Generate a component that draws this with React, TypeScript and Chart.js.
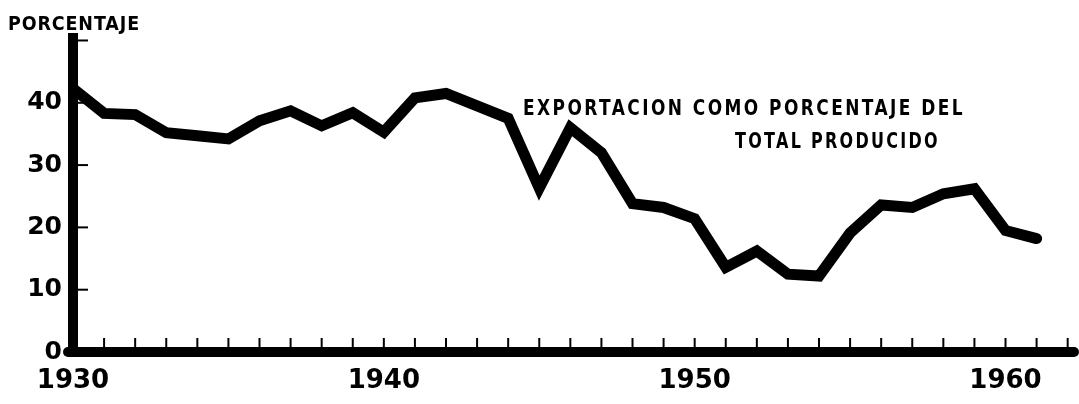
import React, { useEffect, useRef } from "react";
import { Chart, registerables } from "chart.js";

Chart.register(...registerables);

const years: number[] = [
  1930, 1931, 1932, 1933, 1934, 1935, 1936, 1937, 1938, 1939,
  1940, 1941, 1942, 1943, 1944, 1945, 1946, 1947, 1948, 1949,
  1950, 1951, 1952, 1953, 1954, 1955, 1956, 1957, 1958, 1959,
  1960, 1961,
];
const exportPct: number[] = [
  42.3, 38.3, 38.1, 35.2, 34.7, 34.2, 37.1, 38.7, 36.3, 38.4,
  35.3, 40.8, 41.5, 39.5, 37.5, 26.3, 36.0, 32.0, 23.8, 23.2,
  21.4, 13.6, 16.2, 12.5, 12.2, 19.1, 23.6, 23.2, 25.4, 26.2,
  19.5, 18.2,
];
const xLabelYears: number[] = [1930, 1940, 1950, 1960];
const yLabelValues: number[] = [0, 10, 20, 30, 40];
const yTickValues: number[] = [10, 20, 30, 40, 50];
const xTickYears: number[] = [
  1931, 1932, 1933, 1934, 1935, 1936, 1937, 1938, 1939, 1940,
  1941, 1942, 1943, 1944, 1945, 1946, 1947, 1948, 1949, 1950,
  1951, 1952, 1953, 1954, 1955, 1956, 1957, 1958, 1959, 1960,
  1961, 1962,
];
const yAxisTitle = "PORCENTAJE";
const noteLine1 = "EXPORTACION COMO PORCENTAJE DEL";
const noteLine2 = "TOTAL PRODUCIDO";

const FONT = "'DejaVu Sans', 'Noto Sans', sans-serif";

function fitText(ctx: CanvasRenderingContext2D, text: string, left: number, baseline: number, width: number, font: string, spacing: string) {
  ctx.save();
  ctx.font = font;
  (ctx as any).letterSpacing = spacing;
  ctx.textAlign = "left";
  ctx.textBaseline = "alphabetic";
  const w = ctx.measureText(text).width;
  ctx.translate(left, baseline);
  ctx.scale(width / w, 1);
  ctx.fillStyle = "#000";
  ctx.fillText(text, 0, 0);
  ctx.restore();
}

const axesPlugin = {
  id: "oldAxes",
  beforeDatasetsDraw(chart: any) {
    const { ctx, chartArea, scales } = chart;
    const xs = scales.x;
    const ys = scales.y;
    ctx.save();
    ctx.strokeStyle = "#000";
    ctx.fillStyle = "#000";
    ctx.lineWidth = 10;
    ctx.lineCap = "butt";
    ctx.beginPath();
    ctx.moveTo(chartArea.left, chartArea.top);
    ctx.lineTo(chartArea.left, chartArea.bottom + 5);
    ctx.stroke();
    ctx.lineCap = "round";
    ctx.beginPath();
    ctx.moveTo(chartArea.left - 5, chartArea.bottom);
    ctx.lineTo(chartArea.right - 3, chartArea.bottom);
    ctx.stroke();
    ctx.lineWidth = 2;
    ctx.lineCap = "butt";
    yTickValues.forEach((v) => {
      const py = ys.getPixelForValue(v);
      ctx.beginPath();
      ctx.moveTo(chartArea.left + 4, py);
      ctx.lineTo(chartArea.left + 15, py);
      ctx.stroke();
    });
    xTickYears.forEach((yr) => {
      const px = xs.getPixelForValue(yr);
      ctx.beginPath();
      ctx.moveTo(px, chartArea.bottom - 3);
      ctx.lineTo(px, chartArea.bottom - 14);
      ctx.stroke();
    });
    ctx.restore();
  },
  afterDraw(chart: any) {
    const { ctx } = chart;
    fitText(ctx, yAxisTitle, 8, 30, 132, `bold 20px ${FONT}`, "1px");
    fitText(ctx, noteLine1, 523, 115, 442, `bold 21px ${FONT}`, "3px");
    fitText(ctx, noteLine2, 735, 148, 205, `bold 21px ${FONT}`, "3px");
  },
};

export default function App() {
  const ref = useRef<HTMLCanvasElement | null>(null);
  useEffect(() => {
    if (!ref.current) return;
    const chart = new Chart(ref.current, {
      type: "line",
      data: {
        labels: years,
        datasets: [
          {
            data: years.map((y, i) => ({ x: y, y: exportPct[i] })),
            borderColor: "#000",
            backgroundColor: "#000",
            borderWidth: 11,
            borderJoinStyle: "miter",
            borderCapStyle: "round",
            pointRadius: 0,
            tension: 0,
          },
        ],
      },
      options: {
        responsive: false,
        animation: false,
        layout: { padding: { top: 33, right: 2, left: 0, bottom: 0 } },
        plugins: { legend: { display: false }, tooltip: { enabled: false } },
        scales: {
          x: {
            type: "linear",
            min: 1930,
            max: 1962.3,
            grid: { display: false, drawTicks: false },
            border: { display: false },
            afterFit: (s: any) => {
              s.height = 52;
            },
            afterBuildTicks: (s: any) => {
              s.ticks = xLabelYears.map((v) => ({ value: v }));
            },
            ticks: {
              autoSkip: false,
              maxRotation: 0,
              padding: 14,
              color: "#000",
              font: { family: FONT, weight: "bold", size: 26 },
              callback: (v: any) => String(v),
            },
          },
          y: {
            type: "linear",
            min: 0,
            max: 51.2,
            grid: { display: false, drawTicks: false },
            border: { display: false },
            afterFit: (s: any) => {
              s.width = 73;
            },
            afterBuildTicks: (s: any) => {
              s.ticks = yLabelValues.map((v) => ({ value: v }));
            },
            ticks: {
              padding: 11,
              color: "#000",
              font: { family: FONT, weight: "bold", size: 25 },
              callback: (v: any) => String(v),
            },
          },
        },
      },
      plugins: [axesPlugin],
    } as any);
    return () => chart.destroy();
  }, []);
  return (
    <div style={{ position: "absolute", left: 0, top: 0, width: 1079, height: 404, background: "#fff" }}>
      <canvas ref={ref} width={1079} height={404} />
    </div>
  );
}
